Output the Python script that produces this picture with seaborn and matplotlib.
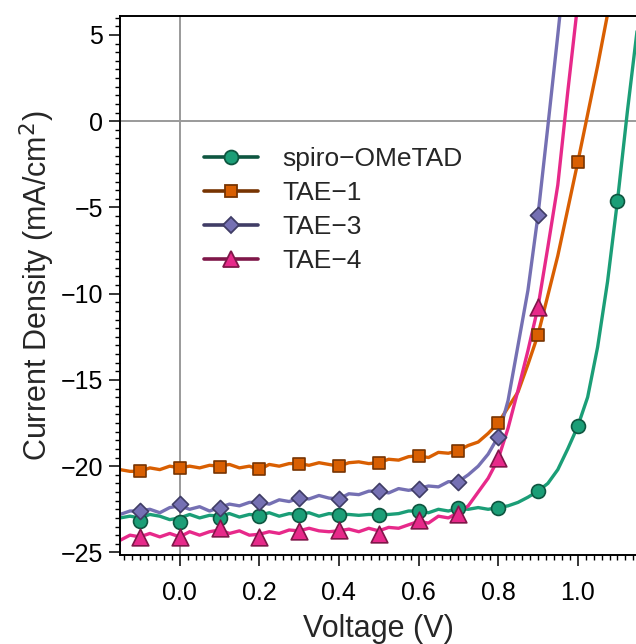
import numpy as np
import pandas as pd
import matplotlib
matplotlib.use("Agg")
import matplotlib.pyplot as plt
from matplotlib.lines import Line2D
from matplotlib.ticker import MultipleLocator
import seaborn as sns

nan = np.nan

# measured J-V curves (dense sweep)
voltage = [-0.15, -0.125, -0.1, -0.075, -0.05, -0.025, 0.0, 0.025, 0.05, 0.075,
           0.1, 0.125, 0.15, 0.175, 0.2, 0.225, 0.25, 0.275, 0.3, 0.325,
           0.35, 0.375, 0.4, 0.425, 0.45, 0.475, 0.5, 0.525, 0.55, 0.575,
           0.6, 0.625, 0.65, 0.675, 0.7, 0.725, 0.75, 0.775, 0.8, 0.825,
           0.85, 0.875, 0.9, 0.925, 0.95, 0.975, 1.0, 1.025, 1.05, 1.075,
           1.1, 1.125, 1.15]

spiro = [-23.0, -22.9, -23.0, -22.8, -22.9, -23.1, -23.0, -22.8, -23.0, -22.85,
         -22.9, -22.75, -22.95, -22.8, -22.85, -22.7, -22.9, -22.75, -22.8, -22.7,
         -22.9, -22.75, -22.8, -22.8, -22.85, -22.8, -22.8, -22.8, -22.75, -22.6,
         -22.6, -22.7, -22.5, -22.6, -22.45, -22.5, -22.4, -22.5, -22.4, -22.3,
         -22.1, -21.8, -21.45, -21.0, -20.2, -19.0, -17.7, -16.0, -13.1, -9.3,
         -4.6, 0.6, 5.4]

tae1 = [-20.2, -20.3, -20.3, -20.1, -20.2, -20.0, -20.1, -20.0, -20.1, -19.95,
        -20.0, -19.9, -20.1, -20.0, -20.2, -19.9, -20.0, -19.85, -19.85, -19.95,
        -19.8, -19.9, -20.0, -19.8, -19.75, -19.85, -19.8, -19.6, -19.65, -19.45,
        -19.4, -19.5, -19.2, -19.25, -19.1, -18.8, -18.6, -18.1, -17.5, -16.6,
        -15.7, -14.1, -12.4, -10.1, -7.8, -5.1, -2.4, 0.4, 3.2, 6.2,
        nan, nan, nan]

tae3 = [-22.8, -22.6, -22.6, -22.5, -22.7, -22.4, -22.3, -22.5, -22.35, -22.6,
        -22.4, -22.2, -22.3, -22.1, -22.1, -22.2, -21.95, -22.05, -21.85, -21.9,
        -21.7, -21.85, -21.9, -21.6, -21.65, -21.45, -21.45, -21.55, -21.3, -21.4,
        -21.3, -21.15, -21.2, -20.9, -20.9, -20.5, -20.0, -19.3, -18.3, -16.2,
        -13.0, -9.8, -5.5, -0.3, 5.0, 10.5, nan, nan, nan, nan,
        nan, nan, nan]

tae4 = [-24.3, -24.0, -24.1, -23.9, -24.1, -23.9, -24.1, -23.8, -24.0, -23.8,
        -23.7, -23.9, -23.75, -24.0, -23.95, -23.8, -23.9, -23.7, -23.75, -23.6,
        -23.75, -23.8, -23.75, -23.65, -23.8, -23.6, -23.75, -23.55, -23.6, -23.4,
        -23.2, -23.3, -22.9, -23.0, -22.7, -22.3, -21.5, -20.7, -19.6, -17.8,
        -15.6, -13.3, -10.8, -7.3, -3.7, 1.7, 6.8, nan, nan, nan,
        nan, nan, nan]

# marker points every 0.1 V
marker_v = [-0.1, 0.0, 0.1, 0.2, 0.3, 0.4, 0.5, 0.6, 0.7, 0.8, 0.9, 1.0, 1.1]
spiro_pts = [-23.17, -23.23, -23.0, -22.9, -22.85, -22.85, -22.85, -22.6, -22.41,
             -22.41, -21.43, -17.68, -4.63]
tae1_pts = [-20.29, -20.09, -20.03, -20.19, -19.86, -19.99, -19.82, -19.42, -19.14,
            -17.5, -12.4, -2.38]
tae3_pts = [-22.58, -22.19, -22.45, -22.08, -21.86, -21.9, -21.43, -21.33, -20.92,
            -18.33, -5.45]
tae4_pts = [-24.12, -24.12, -23.59, -24.12, -23.73, -23.69, -23.92, -23.13, -22.75,
            -19.54, -10.78]

labels = ["spiro\u2212OMeTAD", "TAE\u22121", "TAE\u22123", "TAE\u22124"]
colors = ["#1B9E77", "#D95F02", "#7570B3", "#E7298A"]
edges = ["#0E5640", "#773402", "#403D66", "#7F1749"]
markers = ["o", "s", "D", "^"]
msizes = [10.0, 8.8, 8.2, 12.0]

sns.set_style("ticks")
plt.rcParams["font.family"] = ["Liberation Sans", "DejaVu Sans"]
plt.rcParams["axes.unicode_minus"] = True

fig = plt.figure(figsize=(6.36, 6.44), dpi=100)
ax = fig.add_axes([0.1887, 0.1382, 0.8135, 0.837])

ax.axhline(0, color="#9a9a9a", lw=1.4, zorder=0)
ax.axvline(0, color="#9a9a9a", lw=1.4, zorder=0)

lines = [spiro, tae1, tae3, tae4]
points = [spiro_pts, tae1_pts, tae3_pts, tae4_pts]

for vals, pts, c, ec, m, ms in zip(lines, points, colors, edges, markers, msizes):
    df = pd.DataFrame({"V": voltage, "J": vals}).dropna()
    sns.lineplot(data=df, x="V", y="J", color=c, lw=2.4, estimator=None,
                 sort=False, ax=ax, zorder=2)
    dp = pd.DataFrame({"V": marker_v[:len(pts)], "J": pts})
    sns.scatterplot(data=dp, x="V", y="J", marker=m, s=ms ** 2, color=c,
                    edgecolor=ec, linewidth=1.2, ax=ax, zorder=3, legend=False)

handles = [Line2D([], [], color=ec, lw=2.6, marker=m, markersize=ms,
                  markerfacecolor=c, markeredgecolor=ec, markeredgewidth=1.3)
           for c, ec, m, ms in zip(colors, edges, markers, msizes)]
ax.legend(handles, labels, loc="upper left", bbox_to_anchor=(0.163, 0.757),
          frameon=False, fontsize=19, handlelength=2.05, handletextpad=0.9,
          labelspacing=0.38, borderpad=0, borderaxespad=0)

ax.set_xlim(-0.15, 1.15)
ax.set_ylim(-25.15, 6.1)
ax.xaxis.set_major_locator(MultipleLocator(0.2))
ax.xaxis.set_minor_locator(MultipleLocator(0.02))
ax.yaxis.set_major_locator(MultipleLocator(5))
ax.yaxis.set_minor_locator(MultipleLocator(0.5))
ax.set_xticks([0.0, 0.2, 0.4, 0.6, 0.8, 1.0])
ax.set_xticklabels(["0.0", "0.2", "0.4", "0.6", "0.8", "1.0"])

ax.tick_params(which="major", direction="out", length=8, width=1.1,
               labelsize=18, colors="black", pad=4)
ax.tick_params(which="minor", direction="out", length=3.5, width=1.0,
               colors="black")
ax.tick_params(axis="x", which="major", pad=11)

for side in ["left", "bottom", "top"]:
    ax.spines[side].set_linewidth(1.4)
    ax.spines[side].set_color("black")
ax.spines["right"].set_visible(False)

ax.set_xlabel("Voltage (V)", fontsize=22, labelpad=6)
ax.set_ylabel("Current Density (mA/cm$^2$)", fontsize=22, labelpad=3)

fig.savefig("out.png", dpi=100)
